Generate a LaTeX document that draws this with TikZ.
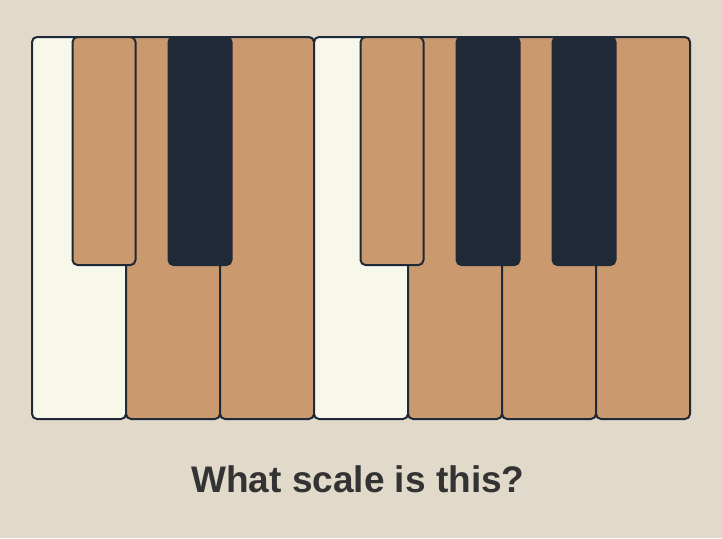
\documentclass[tikz,border=0pt]{standalone}
\usepackage{fontspec}
\setmainfont{Liberation Sans}
\definecolor{bg}{RGB}{225,218,203}
\definecolor{ivory}{RGB}{247,248,234}
\definecolor{tan}{RGB}{202,153,110}
\definecolor{ink}{RGB}{33,41,56}
\definecolor{edge}{RGB}{31,41,55}
\definecolor{txt}{RGB}{51,51,51}
\begin{document}
\begin{tikzpicture}[x=1pt,y=-1pt,
  key/.style={draw=edge,line width=2pt,rounded corners=5pt,inner sep=0pt,outer sep=0pt},
  whitekey/.style={key,minimum width=94pt,minimum height=382pt},
  blackkey/.style={key,minimum width=63pt,minimum height=228pt},
  caption/.style={text=txt,font=\fontsize{37}{44}\selectfont\bfseries,anchor=base,inner sep=0pt}]
\fill[bg] (0,0) rectangle (722,538);
\useasboundingbox (0,0) rectangle (722,538);
% white keys
\node[whitekey,fill=ivory] (w1) at (79,228) {};
\node[whitekey,fill=tan]   (w2) at (173,228) {};
\node[whitekey,fill=tan]   (w3) at (267,228) {};
\node[whitekey,fill=ivory] (w4) at (361,228) {};
\node[whitekey,fill=tan]   (w5) at (455,228) {};
\node[whitekey,fill=tan]   (w6) at (549,228) {};
\node[whitekey,fill=tan]   (w7) at (643,228) {};
% black keys
\node[blackkey,fill=tan] (b1) at (104,151) {};
\node[blackkey,fill=ink] (b2) at (200,151) {};
\node[blackkey,fill=tan] (b3) at (392,151) {};
\node[blackkey,fill=ink] (b4) at (488,151) {};
\node[blackkey,fill=ink] (b5) at (584,151) {};
% caption
\node[caption] (q) at (358,492) {What scale is this?};
\end{tikzpicture}
\end{document}
